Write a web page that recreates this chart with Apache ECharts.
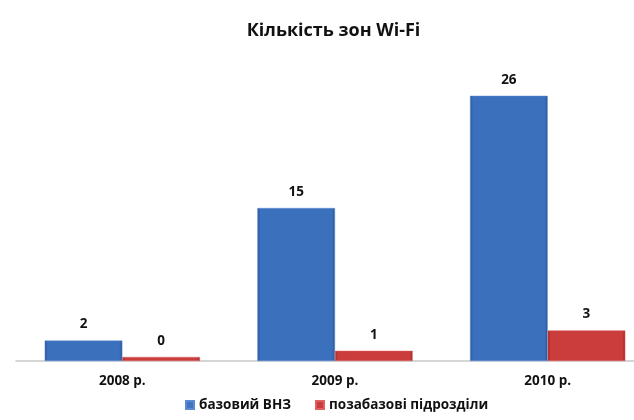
<!DOCTYPE html>
<html>
<head>
<meta charset="utf-8">
<script src="https://cdn.jsdelivr.net/npm/echarts@6/dist/echarts.min.js"></script>
<style>
  html, body { margin: 0; padding: 0; background: #fff; overflow: hidden; }
  /* the original chart is cropped on the right, so the canvas is a bit wider than the window */
  #chart { width: 667px; height: 420px; }
</style>
</head>
<body>
<div id="chart"></div>
<script>
var years = ['2008 р.', '2009 р.', '2010 р.'];
var baseVals = [2, 15, 26];
var outVals = [0, 1, 3];
var seriesNames = ['базовий ВНЗ', 'позабазові підрозділи'];

// slight bevel: darker thin edges, flat middle
function bevel(edge, mid) {
  return new echarts.graphic.LinearGradient(0, 0, 1, 0, [
    { offset: 0, color: edge },
    { offset: 0.04, color: mid },
    { offset: 0.96, color: mid },
    { offset: 1, color: edge }
  ]);
}

var chart = echarts.init(document.getElementById('chart'));
var font = 'Open Sans';
var labelStyle = {
  show: true,
  position: 'top',
  distance: 9,
  color: '#111',
  fontWeight: 'bold',
  fontSize: 13.5,
  fontFamily: font
};

chart.setOption({
  animation: false,
  title: {
    text: 'Кількість зон Wi-Fi',
    left: 'center',
    top: 17,
    textStyle: { fontSize: 18, fontWeight: 'bold', color: '#111', fontFamily: font }
  },
  legend: {
    bottom: 3,
    left: 180,
    itemWidth: 8,
    itemHeight: 8,
    itemGap: 24,
    textStyle: { fontSize: 13.5, fontWeight: 'bold', color: '#111', fontFamily: font },
    data: [
      { name: seriesNames[0], icon: 'rect', itemStyle: { color: '#3f74c2' } },
      { name: seriesNames[1], icon: 'rect', itemStyle: { color: '#cc3b3b' } }
    ]
  },
  grid: { left: 16, right: 13, top: 55, bottom: 59 },
  xAxis: {
    type: 'category',
    data: years,
    axisTick: { show: false },
    axisLine: { lineStyle: { color: '#c8c8c8', width: 1.5 } },
    axisLabel: { color: '#111', fontWeight: 'bold', fontSize: 13.5, margin: 13, fontFamily: font }
  },
  yAxis: {
    type: 'value',
    min: 0,
    max: 30,
    show: false
  },
  series: [
    {
      name: seriesNames[0],
      type: 'bar',
      data: baseVals,
      barGap: '0%',
      barCategoryGap: '27%',
      itemStyle: { color: bevel('#2b5596', '#3b70bd'), borderColor: '#5a8ad0', borderWidth: 0.5 },
      label: labelStyle
    },
    {
      name: seriesNames[1],
      type: 'bar',
      data: outVals,
      barMinHeight: 4,
      itemStyle: { color: bevel('#9e2a2a', '#cb3c3c'), borderColor: '#de6060', borderWidth: 0.5 },
      label: labelStyle
    }
  ]
});
</script>
</body>
</html>
